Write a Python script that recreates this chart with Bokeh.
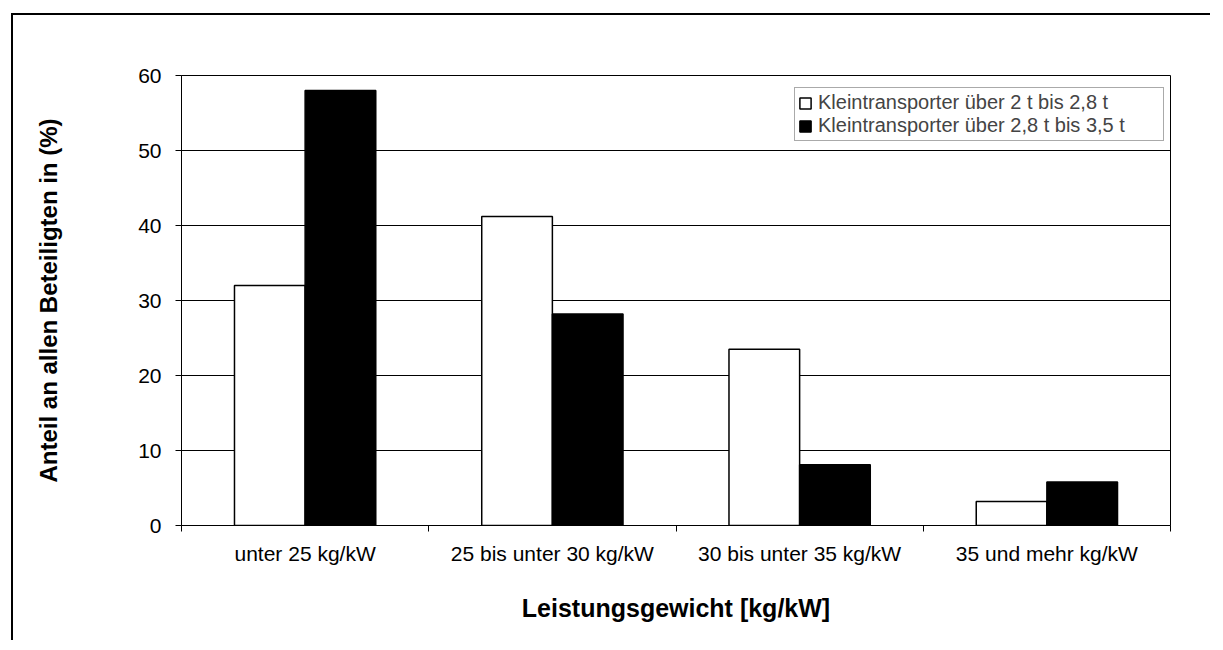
from bokeh.plotting import figure
from bokeh.models import Range1d, FixedTicker, Legend, LegendItem, ColumnDataSource
from bokeh.transform import dodge
from bokeh.embed import file_html
from bokeh.resources import INLINE

categories = ["unter 25 kg/kW", "25 bis unter 30 kg/kW", "30 bis unter 35 kg/kW", "35 und mehr kg/kW"]
series_names = ["Kleintransporter über 2 t bis 2,8 t", "Kleintransporter über 2,8 t bis 3,5 t"]
light_values = [32.0, 41.2, 23.5, 3.2]
heavy_values = [58.0, 28.2, 8.1, 5.8]
y_ticks = [0, 10, 20, 30, 40, 50, 60]

FONT = "Liberation Sans"
pos = list(range(len(categories)))
source = ColumnDataSource(dict(x=pos, light=light_values, heavy=heavy_values))

p = figure(width=1199, height=627, output_backend="svg", toolbar_location=None,
           x_range=Range1d(-0.5, len(categories) - 0.5), y_range=Range1d(0, 60),
           min_border_left=168, min_border_top=60, min_border_right=42, min_border_bottom=117)
p.styles = {"margin-left": "11px", "margin-top": "13px",
            "border-left": "2px solid black", "border-top": "2px solid black"}

bw = 1 / 3.5
r1 = p.vbar(x=dodge("x", -bw / 2, range=p.x_range), top="light", width=bw, bottom=0,
            source=source, fill_color="white", line_color="black", line_width=1.5)
r2 = p.vbar(x=dodge("x", bw / 2, range=p.x_range), top="heavy", width=bw, bottom=0,
            source=source, fill_color="black", line_color="black", line_width=1.5)

p.outline_line_color = "black"
p.outline_line_width = 1
p.xgrid.visible = False
p.ygrid.grid_line_color = "black"
p.ygrid.grid_line_width = 1
p.ygrid.ticker = FixedTicker(ticks=y_ticks)

xa = p.xaxis[0]
xa.ticker = FixedTicker(ticks=pos, minor_ticks=[i - 0.5 for i in range(len(categories) + 1)])
xa.major_label_overrides = {i: c for i, c in zip(pos, categories)}
xa.major_tick_out = 0
xa.major_tick_in = 0
xa.minor_tick_out = 6
xa.minor_tick_in = 0
xa.minor_tick_line_color = "black"
xa.axis_line_color = "black"
xa.major_label_standoff = 10
xa.major_label_text_font = FONT
xa.major_label_text_font_size = "21px"
xa.major_label_text_color = "black"
xa.axis_label = "Leistungsgewicht [kg/kW]"
xa.axis_label_text_font = FONT
xa.axis_label_text_font_style = "bold"
xa.axis_label_text_font_size = "25px"
xa.axis_label_text_color = "black"
xa.axis_label_standoff = 26

ya = p.yaxis[0]
ya.ticker = FixedTicker(ticks=y_ticks)
ya.major_tick_out = 6
ya.major_tick_in = 0
ya.minor_tick_out = 0
ya.minor_tick_in = 0
ya.major_tick_line_color = "black"
ya.axis_line_color = "black"
ya.major_label_standoff = 14
ya.major_label_text_font = FONT
ya.major_label_text_font_size = "21px"
ya.major_label_text_color = "black"
ya.axis_label = "Anteil an allen Beteiligten in (%)"
ya.axis_label_text_font = FONT
ya.axis_label_text_font_style = "bold"
ya.axis_label_text_font_size = "24px"
ya.axis_label_text_color = "black"
ya.axis_label_standoff = 73

legend = Legend(items=[LegendItem(label=series_names[0], renderers=[r1]),
                       LegendItem(label=series_names[1], renderers=[r2])],
                location=(613, 384), margin=0, padding=3, spacing=0,
                glyph_width=14, glyph_height=14, label_standoff=6, label_width=342,
                label_text_font=FONT, label_text_font_size="20px", label_height=20,
                border_line_color="#555555", border_line_width=1.5,
                background_fill_color="white", background_fill_alpha=1)
p.add_layout(legend)

open("out.html", "w").write(file_html(p, INLINE))
